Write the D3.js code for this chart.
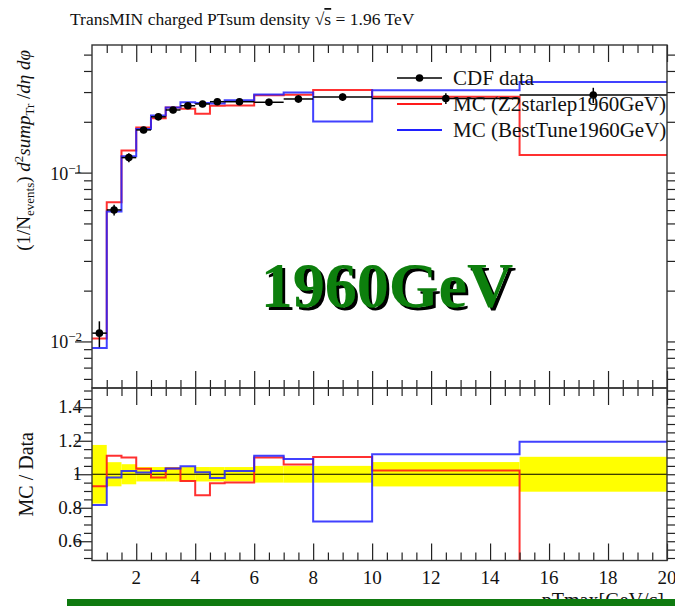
<!DOCTYPE html>
<html>
<head>
<meta charset="utf-8">
<script src="https://cdn.jsdelivr.net/npm/d3@7"></script>
<style>
  html, body { margin: 0; padding: 0; background: #fff; overflow: hidden; }
  svg { display: block; }
  text { font-family: "Liberation Serif", "DejaVu Serif", serif; fill: #111; }
</style>
</head>
<body>
<svg id="chart" width="675" height="606"></svg>
<script>
// Bin edges in pTmax [GeV/c]
const binEdges = [0.5, 1, 1.5, 2, 2.5, 3, 3.5, 4, 4.5, 5, 6, 7, 8, 10, 15, 20];
// CDF data: TransMIN charged PTsum density per bin, with uncertainties
const cdfData = [0.0112, 0.0601, 0.1227, 0.179, 0.214, 0.235, 0.249, 0.255, 0.263, 0.263, 0.261, 0.273, 0.280, 0.275, 0.288];
const cdfErr  = [0.00196, 0.00433, 0.00736, 0.0077, 0.0092, 0.0101, 0.0107, 0.011, 0.0113, 0.0113, 0.013, 0.0137, 0.014, 0.020, 0.030];
// Monte Carlo predictions
const mcZ2starlep = [0.0104, 0.0667, 0.135, 0.185, 0.210, 0.243, 0.239, 0.223, 0.249, 0.250, 0.287, 0.289, 0.309, 0.281, 0.127];
const mcBestTune  = [0.00915, 0.0589, 0.125, 0.181, 0.218, 0.243, 0.261, 0.258, 0.257, 0.268, 0.290, 0.298, 0.201, 0.308, 0.344];
// Axis ticks
const xTickLabels = [2, 4, 6, 8, 10, 12, 14, 16, 18, 20];
const xMinorTicks = d3.range(1, 20, 0.5);
const logMajorTicks = [0.01, 0.1];
const logMinorTicks = [0.006, 0.007, 0.008, 0.009, 0.02, 0.03, 0.04, 0.05, 0.06, 0.07, 0.08, 0.09, 0.2, 0.3, 0.4, 0.5];
const ratioTicks = [0.6, 0.8, 1, 1.2, 1.4];
const ratioMinorTicks = d3.range(0.5, 1.51, 0.05).map(v => +v.toFixed(2));

const legendItems = [
  { label: "CDF data", color: "#000", data: true },
  { label: "MC (Z2starlep1960GeV)", color: "#ff1a1a" },
  { label: "MC (BestTune1960GeV)", color: "#2020ff" }
];

const svg = d3.select("#chart");
const L = 92, R = 667, mainTop = 45, mainBottom = 388, ratioBottom = 560.5;

const x = d3.scaleLinear().domain([0.5, 20]).range([L, R]);
const y = d3.scaleLog().domain([0.0053, 0.57]).range([mainBottom, mainTop]);
const yr = d3.scaleLinear().domain([0.485, 1.515]).range([ratioBottom, mainBottom]);

const defs = svg.append("defs");
defs.append("clipPath").attr("id", "clipMain").append("rect")
  .attr("x", L).attr("y", mainTop).attr("width", R - L).attr("height", mainBottom - mainTop);
defs.append("clipPath").attr("id", "clipRatio").append("rect")
  .attr("x", L).attr("y", mainBottom).attr("width", R - L).attr("height", ratioBottom - mainBottom);
defs.append("filter").attr("id", "stampShadow").attr("x", "-5%").attr("y", "-10%").attr("width", "115%").attr("height", "130%")
  .append("feDropShadow").attr("dx", 3).attr("dy", 3).attr("stdDeviation", 0.4)
  .attr("flood-color", "#000").attr("flood-opacity", 1);

// Title
const title = svg.append("text").attr("x", 70).attr("y", 25).attr("font-size", 17.5);
title.append("tspan").text("TransMIN charged PTsum density ");
title.append("tspan").text("√");
title.append("tspan").attr("text-decoration", "overline").text("s");
title.append("tspan").text(" = 1.96 TeV");

// Step-histogram points: one point per bin start plus the last edge
function stepPoints(vals, f) {
  const pts = vals.map((v, i) => [binEdges[i], f(v, i)]);
  pts.push([binEdges[binEdges.length - 1], f(vals[vals.length - 1], vals.length - 1)]);
  return pts;
}

// ---------- main panel ----------
const gMain = svg.append("g").attr("clip-path", "url(#clipMain)");
const stepMain = d3.line().x(d => x(d[0])).y(d => y(d[1])).curve(d3.curveStepAfter);

gMain.append("path").attr("d", stepMain(stepPoints(mcZ2starlep, v => v)))
  .attr("fill", "none").attr("stroke", legendItems[1].color).attr("stroke-width", 2).attr("opacity", 0.9);
gMain.append("path").attr("d", stepMain(stepPoints(mcBestTune, v => v)))
  .attr("fill", "none").attr("stroke", legendItems[2].color).attr("stroke-width", 2).attr("opacity", 0.85);

const mids = cdfData.map((v, i) => (binEdges[i] + binEdges[i + 1]) / 2);
const dataG = gMain.append("g");
cdfData.forEach((v, i) => {
  dataG.append("line").attr("x1", x(binEdges[i])).attr("x2", x(binEdges[i + 1]))
    .attr("y1", y(v)).attr("y2", y(v)).attr("stroke", "#000").attr("stroke-width", 1.5);
  dataG.append("line").attr("x1", x(mids[i])).attr("x2", x(mids[i]))
    .attr("y1", y(v - cdfErr[i])).attr("y2", y(v + cdfErr[i])).attr("stroke", "#000").attr("stroke-width", 1.5);
  dataG.append("circle").attr("cx", x(mids[i])).attr("cy", y(v)).attr("r", 3.8).attr("fill", "#000");
});

// ---------- ratio panel ----------
const gRatio = svg.append("g").attr("clip-path", "url(#clipRatio)");
cdfData.forEach((v, i) => {
  const rel = cdfErr[i] / v;
  gRatio.append("rect").attr("x", x(binEdges[i])).attr("width", x(binEdges[i + 1]) - x(binEdges[i]))
    .attr("y", yr(1 + rel)).attr("height", yr(1 - rel) - yr(1 + rel)).attr("fill", "#ffff00");
});
gRatio.append("line").attr("x1", L).attr("x2", R).attr("y1", yr(1)).attr("y2", yr(1))
  .attr("stroke", "#000").attr("stroke-width", 1);
const stepRatio = d3.line().x(d => x(d[0])).y(d => yr(d[1])).curve(d3.curveStepAfter);
gRatio.append("path").attr("d", stepRatio(stepPoints(mcZ2starlep, (v, i) => v / cdfData[i])))
  .attr("fill", "none").attr("stroke", legendItems[1].color).attr("stroke-width", 2).attr("opacity", 0.9);
gRatio.append("path").attr("d", stepRatio(stepPoints(mcBestTune, (v, i) => v / cdfData[i])))
  .attr("fill", "none").attr("stroke", legendItems[2].color).attr("stroke-width", 2).attr("opacity", 0.85);

// ---------- axes ----------
function tickGroup(axis, tx, ty) {
  const g = svg.append("g").attr("transform", `translate(${tx},${ty})`).call(axis);
  g.select(".domain").remove();
  g.selectAll(".tick line").attr("stroke", "#222").attr("stroke-width", 1.2);
  g.attr("font-family", null).attr("font-size", null);
  return g;
}
const MAJ = 17, MIN = 8;
// x ticks on both panels, top and bottom edges
[[mainTop, 1], [mainBottom, -1], [mainBottom, 1], [ratioBottom, -1]].forEach(([yy, dir]) => {
  const mk = dir > 0 ? d3.axisTop : d3.axisBottom;
  tickGroup(mk(x).tickValues(xTickLabels).tickSize(-MAJ).tickFormat(""), 0, yy);
  tickGroup(mk(x).tickValues(xMinorTicks.filter(v => v % 2 !== 0)).tickSize(-MIN).tickFormat(""), 0, yy);
});
// x tick labels under the ratio panel
svg.append("g").selectAll("text").data(xTickLabels).join("text")
  .attr("x", d => x(d)).attr("y", 584).attr("text-anchor", "middle").attr("font-size", 19).text(d => d);

// main y ticks (log)
[[L, d3.axisRight], [R, d3.axisLeft]].forEach(([xx, mk]) => {
  tickGroup(mk(y).tickValues(logMajorTicks).tickSize(-MAJ).tickFormat(""), xx, 0);
  tickGroup(mk(y).tickValues(logMinorTicks).tickSize(-MIN).tickFormat(""), xx, 0);
});
logMajorTicks.forEach(v => {
  const t = svg.append("text").attr("x", 82).attr("y", y(v) + 7).attr("text-anchor", "end").attr("font-size", 18);
  t.append("tspan").text("10");
  t.append("tspan").attr("dy", -7).attr("font-size", 13).text("−" + Math.round(-Math.log10(v)));
});

// ratio y ticks
[[L, d3.axisRight], [R, d3.axisLeft]].forEach(([xx, mk]) => {
  tickGroup(mk(yr).tickValues(ratioTicks).tickSize(-MAJ).tickFormat(""), xx, 0);
  tickGroup(mk(yr).tickValues(ratioMinorTicks.filter(v => !ratioTicks.includes(v))).tickSize(-MIN).tickFormat(""), xx, 0);
});
svg.append("g").selectAll("text").data(ratioTicks).join("text")
  .attr("x", 82).attr("y", d => yr(d) + 6).attr("text-anchor", "end").attr("font-size", 19)
  .text(d => d3.format("~g")(d));

// frames
svg.append("rect").attr("x", L).attr("y", mainTop).attr("width", R - L).attr("height", mainBottom - mainTop)
  .attr("fill", "none").attr("stroke", "#333").attr("stroke-width", 1.4);
svg.append("rect").attr("x", L).attr("y", mainBottom).attr("width", R - L).attr("height", ratioBottom - mainBottom)
  .attr("fill", "none").attr("stroke", "#333").attr("stroke-width", 1.4);

// axis titles
const yl = svg.append("text").attr("transform", "translate(30,50) rotate(-90)")
  .attr("text-anchor", "end").attr("font-size", 19);
yl.append("tspan").text("(1/N");
yl.append("tspan").attr("dy", 4).attr("font-size", 13).text("events");
yl.append("tspan").attr("dy", -4).text(") ");
yl.append("tspan").attr("font-style", "italic").text("d");
yl.append("tspan").attr("dy", -7).attr("font-size", 13).text("2");
yl.append("tspan").attr("dy", 7).attr("font-style", "italic").text("sump");
yl.append("tspan").attr("dy", 4).attr("font-size", 13).text("Tr");
yl.append("tspan").attr("dy", -4).text(" /");
yl.append("tspan").attr("font-style", "italic").text("dη dφ");

svg.append("text").attr("transform", `translate(33,${yr(1)}) rotate(-90)`)
  .attr("text-anchor", "middle").attr("font-size", 20).text("MC / Data");

svg.append("text").attr("x", 664).attr("y", 607).attr("text-anchor", "end").attr("font-size", 20)
  .text("pTmax[GeV/c]");

// legend
const lg = svg.append("g");
legendItems.forEach((d, i) => {
  const ry = 78 + i * 26;
  lg.append("line").attr("x1", 397).attr("x2", 442).attr("y1", ry).attr("y2", ry)
    .attr("stroke", d.color).attr("stroke-width", d.data ? 1.5 : 2);
  if (d.data) lg.append("circle").attr("cx", 419.5).attr("cy", ry).attr("r", 3.8).attr("fill", "#000");
  lg.append("text").attr("x", 453).attr("y", ry + 7).attr("font-size", 21).text(d.label);
});

// energy stamp with drop shadow
svg.append("text").attr("x", 387).attr("y", 306.5)
  .attr("font-weight", "bold").attr("font-size", 64).attr("text-anchor", "middle")
  .attr("filter", "url(#stampShadow)")
  .style("fill", "#0a7f0a").text("1960GeV");

// bottom bar
svg.append("rect").attr("x", 67).attr("y", 599).attr("width", 608).attr("height", 7).attr("fill", "#0f7a10");
</script>
</body>
</html>
